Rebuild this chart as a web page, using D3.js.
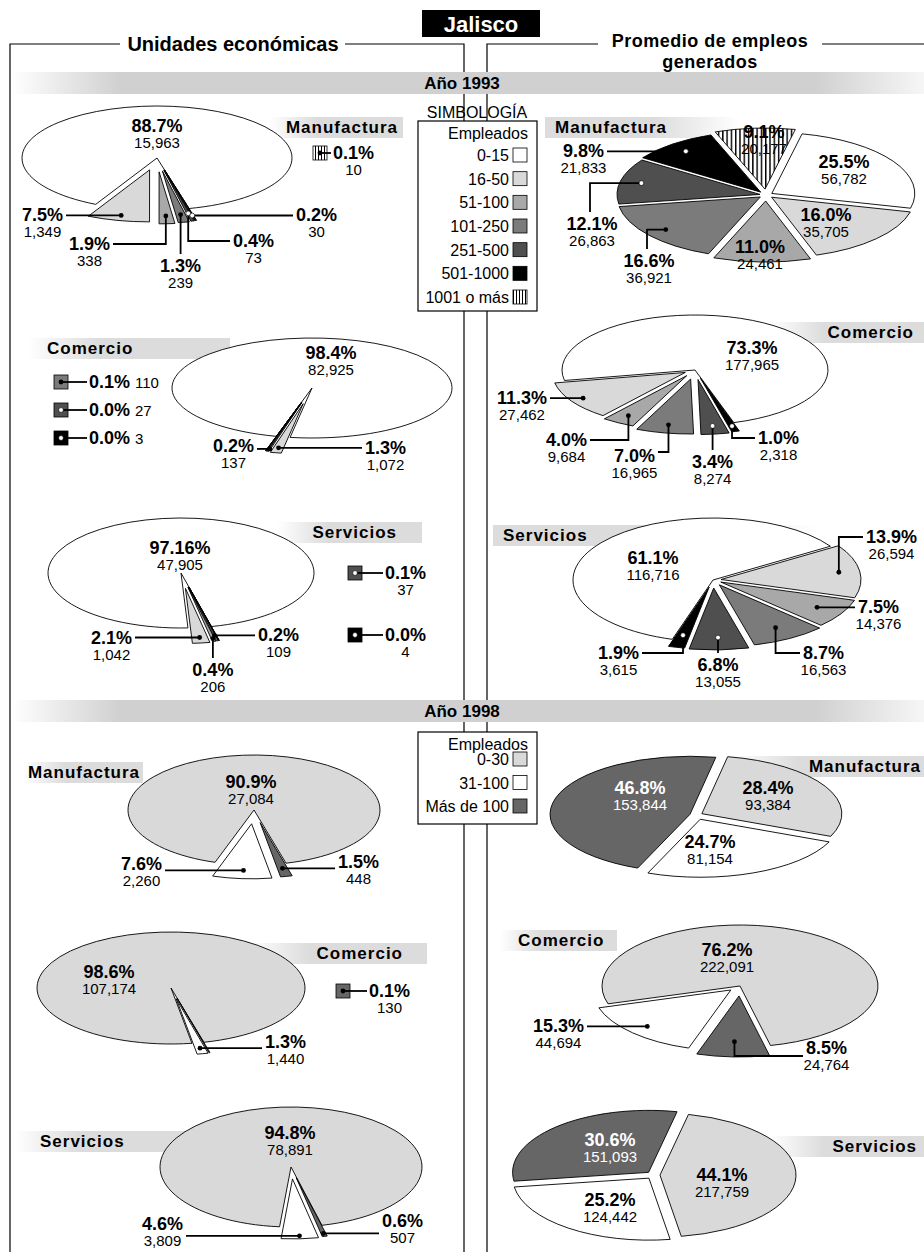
<!DOCTYPE html>
<html>
<head>
<meta charset="utf-8">
<title>Jalisco</title>
<script src="https://cdn.jsdelivr.net/npm/d3@7/dist/d3.min.js"></script>
<style>
  body { margin: 0; background: #fff; }
  svg { display: block; }
  text { font-family: "Liberation Sans", Arial, Helvetica, sans-serif; fill: #000; }
</style>
</head>
<body>
<svg id="chart" width="924" height="1252"></svg>
<script>
// ---------- data ----------
var sectors = ["Manufactura", "Comercio", "Servicios"];
var years = ["Año 1993", "Año 1998"];
var cats1993 = ["0-15", "16-50", "51-100", "101-250", "251-500", "501-1000", "1001 o más"];
var cats1998 = ["0-30", "31-100", "Más de 100"];

// 1993 - unidades economicas
var ue93Man = [15963, 1349, 338, 239, 73, 30, 10];
var ue93ManPct = ["88.7%", "7.5%", "1.9%", "1.3%", "0.4%", "0.2%", "0.1%"];
var ue93Com = [82925, 1072, 137, 110, 27, 3];
var ue93ComPct = ["98.4%", "1.3%", "0.2%", "0.1%", "0.0%", "0.0%"];
var ue93Ser = [47905, 1042, 206, 109, 37, 4];
var ue93SerPct = ["97.16%", "2.1%", "0.4%", "0.2%", "0.1%", "0.0%"];

// 1993 - promedio de empleos
var pe93Man = [56782, 35705, 24461, 36921, 26863, 21833, 20177];
var pe93ManPct = ["25.5%", "16.0%", "11.0%", "16.6%", "12.1%", "9.8%", "9.1%"];
var pe93Com = [177965, 27462, 9684, 16965, 8274, 2318];
var pe93ComPct = ["73.3%", "11.3%", "4.0%", "7.0%", "3.4%", "1.0%"];
var pe93Ser = [116716, 26594, 14376, 16563, 13055, 3615];
var pe93SerPct = ["61.1%", "13.9%", "7.5%", "8.7%", "6.8%", "1.9%"];

// 1998 - unidades economicas
var ue98Man = [27084, 2260, 448];
var ue98ManPct = ["90.9%", "7.6%", "1.5%"];
var ue98Com = [107174, 1440, 130];
var ue98ComPct = ["98.6%", "1.3%", "0.1%"];
var ue98Ser = [78891, 3809, 507];
var ue98SerPct = ["94.8%", "4.6%", "0.6%"];

// 1998 - promedio de empleos
var pe98Man = [93384, 81154, 153844];
var pe98ManPct = ["28.4%", "24.7%", "46.8%"];
var pe98Com = [222091, 44694, 24764];
var pe98ComPct = ["76.2%", "15.3%", "8.5%"];
var pe98Ser = [217759, 124442, 151093];
var pe98SerPct = ["44.1%", "25.2%", "30.6%"];

// ---------- setup ----------
var svg = d3.select("#chart");
var defs = svg.append("defs");
var fmt = d3.format(",");

function grad(id, stops) {
    var g = defs.append("linearGradient").attr("id", id)
        .attr("x1", 0).attr("x2", 1).attr("y1", 0).attr("y2", 0);
    stops.forEach(function (s) {
        g.append("stop").attr("offset", s[0]).attr("stop-color", s[1]);
    });
}
grad("yearBand", [[0, "#ffffff"], [0.12, "#d0d0d0"], [0.88, "#d0d0d0"], [1, "#f6f6f6"]]);
grad("fadeLeft", [[0, "#ffffff"], [0.35, "#dcdcdc"], [1, "#dcdcdc"]]);
grad("fadeRight", [[0, "#dcdcdc"], [0.55, "#dcdcdc"], [1, "#ffffff"]]);

var pat = defs.append("pattern").attr("id", "stripes")
    .attr("patternUnits", "userSpaceOnUse").attr("width", 3).attr("height", 3);
pat.append("rect").attr("width", 3).attr("height", 3).attr("fill", "#fff");
pat.append("rect").attr("width", 1).attr("height", 3).attr("fill", "#000");

var color93 = d3.scaleOrdinal().domain(cats1993)
    .range(["#ffffff", "#d9d9d9", "#a8a8a8", "#7b7b7b", "#4f4f4f", "#000000", "url(#stripes)"]);
var color98 = d3.scaleOrdinal().domain(cats1998)
    .range(["#d9d9d9", "#ffffff", "#666666"]);

function isDark(c) { return c == "#000000" || c == "#4f4f4f"; }

// ---------- frame ----------
function frameLine(pts) {
    svg.append("path").attr("d", d3.line()(pts))
        .attr("fill", "none").attr("stroke", "#000").attr("stroke-width", 1.2);
}
frameLine([[10, 1252], [10, 44], [120, 44]]);
frameLine([[345, 44], [464, 44], [464, 1252]]);
frameLine([[487, 1252], [487, 44], [598, 44]]);
frameLine([[822, 44], [924, 44]]);

svg.append("rect").attr("x", 422).attr("y", 10).attr("width", 118).attr("height", 27).attr("fill", "#000");
svg.append("text").attr("x", 481).attr("y", 32).attr("text-anchor", "middle")
    .style("fill", "#fff").style("font-weight", "bold").style("font-size", "22px").text("Jalisco");

svg.append("text").attr("x", 233).attr("y", 51).attr("text-anchor", "middle")
    .style("font-weight", "bold").style("font-size", "20px").text("Unidades económicas");

// two-line header
svg.append("text").attr("x", 710).attr("y", 47).attr("text-anchor", "middle")
    .style("font-weight", "bold").style("font-size", "18px").style("letter-spacing", "0.5px")
    .text("Promedio de empleos");
svg.append("text").attr("x", 710).attr("y", 68).attr("text-anchor", "middle")
    .style("font-weight", "bold").style("font-size", "18px").style("letter-spacing", "0.5px")
    .text("generados");

// year bands
[72, 700].forEach(function (y, i) {
    svg.append("rect").attr("x", 11).attr("y", y).attr("width", 913).attr("height", 22)
        .attr("fill", "url(#yearBand)");
    svg.append("text").attr("x", 462).attr("y", y + 17).attr("text-anchor", "middle")
        .style("font-weight", "bold").style("font-size", "17px").text(years[i]);
});

// ---------- legends ----------
svg.append("text").attr("x", 477).attr("y", 118).attr("text-anchor", "middle")
    .style("font-size", "16px").text("SIMBOLOGÍA");

function legend(y0, h, cats, color, rowRange) {
    var g = svg.append("g");
    g.append("rect").attr("x", 418).attr("y", y0).attr("width", 119).attr("height", h)
        .attr("fill", "#fff").attr("stroke", "#000").attr("stroke-width", 1.2);
    g.append("text").attr("x", 528).attr("y", y0 + 18).attr("text-anchor", "end")
        .style("font-size", "16px").text("Empleados");
    var ys = d3.scalePoint().domain(cats).range(rowRange);
    var row = g.selectAll(".row").data(cats).join("g").attr("class", "row")
        .attr("transform", function (d) { return "translate(0," + ys(d) + ")"; });
    row.append("text").attr("x", 509).attr("y", 6).attr("text-anchor", "end")
        .style("font-size", "16px").text(function (d) { return d; });
    row.append("rect").attr("x", 513).attr("y", -7).attr("width", 14).attr("height", 14)
        .attr("fill", function (d) { return color(d); }).attr("stroke", "#000").attr("stroke-width", 0.8);
}
legend(121, 190, cats1993, color93, [155, 297]);
legend(732, 92, cats1998, color98, [759, 806]);

// ---------- sector bands ----------
var bandLayout = [
    {s: 0, x1: 270, x2: 403, y: 117, fade: "fadeLeft", tx: 398, anchor: "end"},
    {s: 0, x1: 545, x2: 740, y: 117, fade: "fadeRight", tx: 555, anchor: "start"},
    {s: 1, x1: 28, x2: 230, y: 338, fade: "fadeLeft", tx: 47, anchor: "start"},
    {s: 1, x1: 770, x2: 924, y: 322, fade: "fadeLeft", tx: 914, anchor: "end"},
    {s: 2, x1: 277, x2: 422, y: 522, fade: "fadeLeft", tx: 397, anchor: "end"},
    {s: 2, x1: 493, x2: 817, y: 525, fade: "fadeRight", tx: 503, anchor: "start"},
    {s: 0, x1: 23, x2: 143, y: 762, fade: "fadeLeft", tx: 140, anchor: "end"},
    {s: 0, x1: 730, x2: 924, y: 756, fade: "fadeLeft", tx: 921, anchor: "end"},
    {s: 1, x1: 247, x2: 427, y: 943, fade: "fadeLeft", tx: 403, anchor: "end"},
    {s: 1, x1: 500, x2: 617, y: 930, fade: "fadeLeft", tx: 518, anchor: "start"},
    {s: 2, x1: 15, x2: 200, y: 1131, fade: "fadeLeft", tx: 40, anchor: "start"},
    {s: 2, x1: 770, x2: 924, y: 1136, fade: "fadeLeft", tx: 917, anchor: "end"}
];
bandLayout.forEach(function (b) {
    svg.append("rect").attr("x", b.x1).attr("y", b.y).attr("width", b.x2 - b.x1).attr("height", 21)
        .attr("fill", "url(#" + b.fade + ")");
    svg.append("text").attr("x", b.tx).attr("y", b.y + 16).attr("text-anchor", b.anchor)
        .style("font-weight", "bold").style("font-size", "17px").style("letter-spacing", "1px")
        .text(sectors[b.s]);
});

// ---------- pies ----------
function label(g, tx, ty, anchor, pct, num, light, inline) {
    var t = g.append("text").attr("x", tx).attr("y", ty).attr("text-anchor", anchor)
        .style("font-weight", "bold").style("font-size", "18px").text(pct);
    if (light) t.style("fill", "#fff");
    var w = t.node().getComputedTextLength();
    var n = g.append("text").style("font-size", "15px").text(num);
    if (light) n.style("fill", "#fff");
    if (inline) {
        n.attr("x", tx + w + 5).attr("y", ty).attr("text-anchor", "start");
    } else {
        var c = anchor == "middle" ? tx : (anchor == "end" ? tx - w / 2 : tx + w / 2);
        n.attr("x", c).attr("y", ty + 16).attr("text-anchor", "middle");
    }
}

function dot(g, x, y, dark) {
    g.append("circle").attr("cx", x).attr("cy", y).attr("r", 2.4)
        .attr("fill", dark ? "#fff" : "#000").attr("stroke", "#000").attr("stroke-width", dark ? 0.6 : 0);
}

function drawPie(values, pct, cats, color, lay) {
    var rad = Math.PI / 180;
    var total = d3.sum(values);
    var a0 = (lay.anchor - lay.dir * 360 * values[0] / total) * rad;
    var arcs = d3.pie().sort(null).startAngle(a0).endAngle(a0 + lay.dir * 2 * Math.PI)(values);
    var arc = d3.arc().innerRadius(0).outerRadius(100);
    var g = svg.append("g");

    arcs.forEach(function (d, i) {
        var mid = (d.startAngle + d.endAngle) / 2;
        var ux = Math.sin(mid) * lay.rx, uy = -Math.cos(mid) * lay.ry;
        var len = Math.sqrt(ux * ux + uy * uy);
        var ex = lay.explode[i] || 0;
        d.mid = mid;
        d.ox = lay.cx + ux / len * ex;
        d.oy = lay.cy + uy / len * ex;
        d.col = color(cats[i]);
    });

    g.selectAll("path.slice").data(arcs).join("path").attr("class", "slice")
        .attr("transform", function (d) {
            return "translate(" + d.ox + "," + d.oy + ") scale(" + lay.rx / 100 + "," + lay.ry / 100 + ")";
        })
        .attr("d", arc)
        .attr("fill", function (d) { return d.col; })
        .attr("stroke", "#000").attr("stroke-width", 0.9)
        .attr("stroke-linejoin", "round")
        .attr("vector-effect", "non-scaling-stroke");

    lay.labels.forEach(function (L, i) {
        var d = arcs[i];
        var tx, ty, anchor = "middle";
        if (L.swatch) {
            var sx = L.swatch[0], sy = L.swatch[1];
            g.append("rect").attr("x", sx - 7).attr("y", sy - 7).attr("width", 14).attr("height", 14)
                .attr("fill", d.col).attr("stroke", "#000").attr("stroke-width", 0.8);
            g.append("line").attr("x1", sx).attr("y1", sy).attr("x2", L.to).attr("y2", sy)
                .attr("stroke", "#000").attr("stroke-width", 1.8);
            dot(g, sx, sy, isDark(d.col));
            label(g, L.to + 2, sy + 6, "start", pct[i], fmt(values[i]), false, L.inline);
            return;
        }
        if (L.at) {
            tx = L.at[0]; ty = L.at[1];
        } else {
            var f = L.frac || 0.8;
            var p0 = [d.ox + Math.sin(d.mid) * lay.rx * f, d.oy - Math.cos(d.mid) * lay.ry * f];
            var pts = [p0], cur = p0.slice();
            L.lead.forEach(function (op) {
                cur = op[0] == "h" ? [op[1], cur[1]] : [cur[0], op[1]];
                pts.push(cur.slice());
            });
            g.append("path").attr("d", d3.line()(pts)).attr("fill", "none")
                .attr("stroke", "#000").attr("stroke-width", 1.8);
            dot(g, p0[0], p0[1], isDark(d.col));
            var last = L.lead[L.lead.length - 1];
            if (last[0] == "h") {
                var left = cur[0] < pts[pts.length - 2][0];
                tx = cur[0] + (left ? -3 : 3);
                ty = cur[1] + 6;
                anchor = left ? "end" : "start";
            } else {
                tx = cur[0];
                ty = cur[1] + 18;
            }
        }
        tx += L.dx || 0;
        ty += L.dy || 0;
        label(g, tx, ty, anchor, pct[i], fmt(values[i]), L.light, false);
    });
}

// layouts (position, rotation, explode, label placement)
var layA = {cx: 157, cy: 158, rx: 135, ry: 52, anchor: 207, dir: -1, explode: [0, 14, 14, 14, 14, 14, 14],
    labels: [
        {at: [157, 132]},
        {frac: 0.9, lead: [["h", 66]]},
        {frac: 0.85, lead: [["v", 244], ["h", 113]]},
        {frac: 0.85, lead: [["v", 254]]},
        {frac: 0.85, lead: [["v", 241], ["h", 230]]},
        {frac: 0.9, lead: [["h", 293]]},
        {swatch: [320, 153], to: 331}
    ]};
var layB = {cx: 766, cy: 195, rx: 143, ry: 61, anchor: 104, dir: 1, explode: [6, 6, 6, 6, 6, 6, 6],
    labels: [
        {at: [844, 168]},
        {at: [826, 221]},
        {at: [760, 253]},
        {frac: 0.85, lead: [["h", 647], ["v", 249]], dx: 2},
        {frac: 0.85, lead: [["h", 590], ["v", 212]], dx: 2},
        {frac: 0.85, lead: [["h", 607]]},
        {at: [764, 138]}
    ]};
var layC = {cx: 312, cy: 388, rx: 140, ry: 50, anchor: 189, dir: 1, explode: [0, 18, 18, 18, 18, 18],
    labels: [
        {at: [331, 359]},
        {frac: 0.9, lead: [["h", 362]]},
        {frac: 0.95, lead: [["h", 257]], dy: -3},
        {swatch: [61, 382], to: 87, inline: true},
        {swatch: [61, 410], to: 87, inline: true},
        {swatch: [61, 438], to: 87, inline: true}
    ]};
var layD = {cx: 695, cy: 370, rx: 133, ry: 55, anchor: 259, dir: -1, explode: [0, 10, 10, 10, 10, 10],
    labels: [
        {at: [752, 354]},
        {frac: 0.9, lead: [["h", 550]]},
        {frac: 0.85, lead: [["v", 440], ["h", 590]]},
        {frac: 0.85, lead: [["v", 452], ["h", 658]], dy: 4},
        {frac: 0.85, lead: [["v", 450]]},
        {frac: 0.9, lead: [["v", 438], ["h", 755]]}
    ]};
var layE = {cx: 181, cy: 573, rx: 133, ry: 55, anchor: 177, dir: -1, explode: [0, 16, 16, 16, 16, 16],
    labels: [
        {at: [180, 554]},
        {frac: 0.9, lead: [["h", 135]]},
        {frac: 0.95, lead: [["v", 658]]},
        {frac: 0.9, lead: [["h", 255]]},
        {swatch: [355, 573], to: 383},
        {swatch: [355, 635], to: 383}
    ]};
var layF = {cx: 713, cy: 580, rx: 140, ry: 62, anchor: 57, dir: 1, explode: [0, 8, 8, 8, 8, 8],
    labels: [
        {at: [653, 564]},
        {frac: 0.85, lead: [["v", 537], ["h", 863]]},
        {frac: 0.8, lead: [["h", 855]]},
        {frac: 0.8, lead: [["v", 653], ["h", 800]]},
        {frac: 0.8, lead: [["v", 653]]},
        {frac: 0.8, lead: [["v", 653], ["h", 642]]}
    ]};
var layG = {cx: 254, cy: 810, rx: 126, ry: 55, anchor: 198, dir: -1, explode: [0, 14, 14],
    labels: [
        {at: [251, 788]},
        {frac: 0.85, lead: [["h", 165]], dy: -6},
        {frac: 0.85, lead: [["h", 335]], dy: -6}
    ]};
var layH = {cx: 696, cy: 815, rx: 140, ry: 58, anchor: 113, dir: 1, explode: [6, 6, 6],
    labels: [
        {at: [768, 794]},
        {at: [710, 848]},
        {at: [640, 794], light: true}
    ]};
var layI = {cx: 171, cy: 988, rx: 134, ry: 56, anchor: 171, dir: -1, explode: [0, 12, 12],
    labels: [
        {at: [109, 978]},
        {frac: 0.9, lead: [["h", 262]], dy: -6},
        {swatch: [343, 991], to: 367}
    ]};
var layJ = {cx: 740, cy: 986, rx: 138, ry: 61, anchor: 253, dir: -1, explode: [0, 10, 10],
    labels: [
        {at: [727, 956]},
        {frac: 0.85, lead: [["h", 587]]},
        {frac: 0.75, lead: [["v", 1056], ["h", 803]], dy: -8}
    ]};
var layK = {cx: 291, cy: 1167, rx: 131, ry: 60, anchor: 185, dir: -1, explode: [0, 12, 12],
    labels: [
        {at: [290, 1139]},
        {frac: 0.95, lead: [["h", 186]], dy: -12},
        {frac: 0.95, lead: [["h", 379]], dy: -12}
    ]};
var layL = {cx: 654, cy: 1175, rx: 136, ry: 62, anchor: 171, dir: 1, explode: [6, 6, 6],
    labels: [
        {at: [722, 1181]},
        {at: [610, 1206]},
        {at: [610, 1146], light: true}
    ]};

drawPie(ue93Man, ue93ManPct, cats1993, color93, layA);
drawPie(pe93Man, pe93ManPct, cats1993, color93, layB);
drawPie(ue93Com, ue93ComPct, cats1993, color93, layC);
drawPie(pe93Com, pe93ComPct, cats1993, color93, layD);
drawPie(ue93Ser, ue93SerPct, cats1993, color93, layE);
drawPie(pe93Ser, pe93SerPct, cats1993, color93, layF);
drawPie(ue98Man, ue98ManPct, cats1998, color98, layG);
drawPie(pe98Man, pe98ManPct, cats1998, color98, layH);
drawPie(ue98Com, ue98ComPct, cats1998, color98, layI);
drawPie(pe98Com, pe98ComPct, cats1998, color98, layJ);
drawPie(ue98Ser, ue98SerPct, cats1998, color98, layK);
drawPie(pe98Ser, pe98SerPct, cats1998, color98, layL);
</script>
</body>
</html>
